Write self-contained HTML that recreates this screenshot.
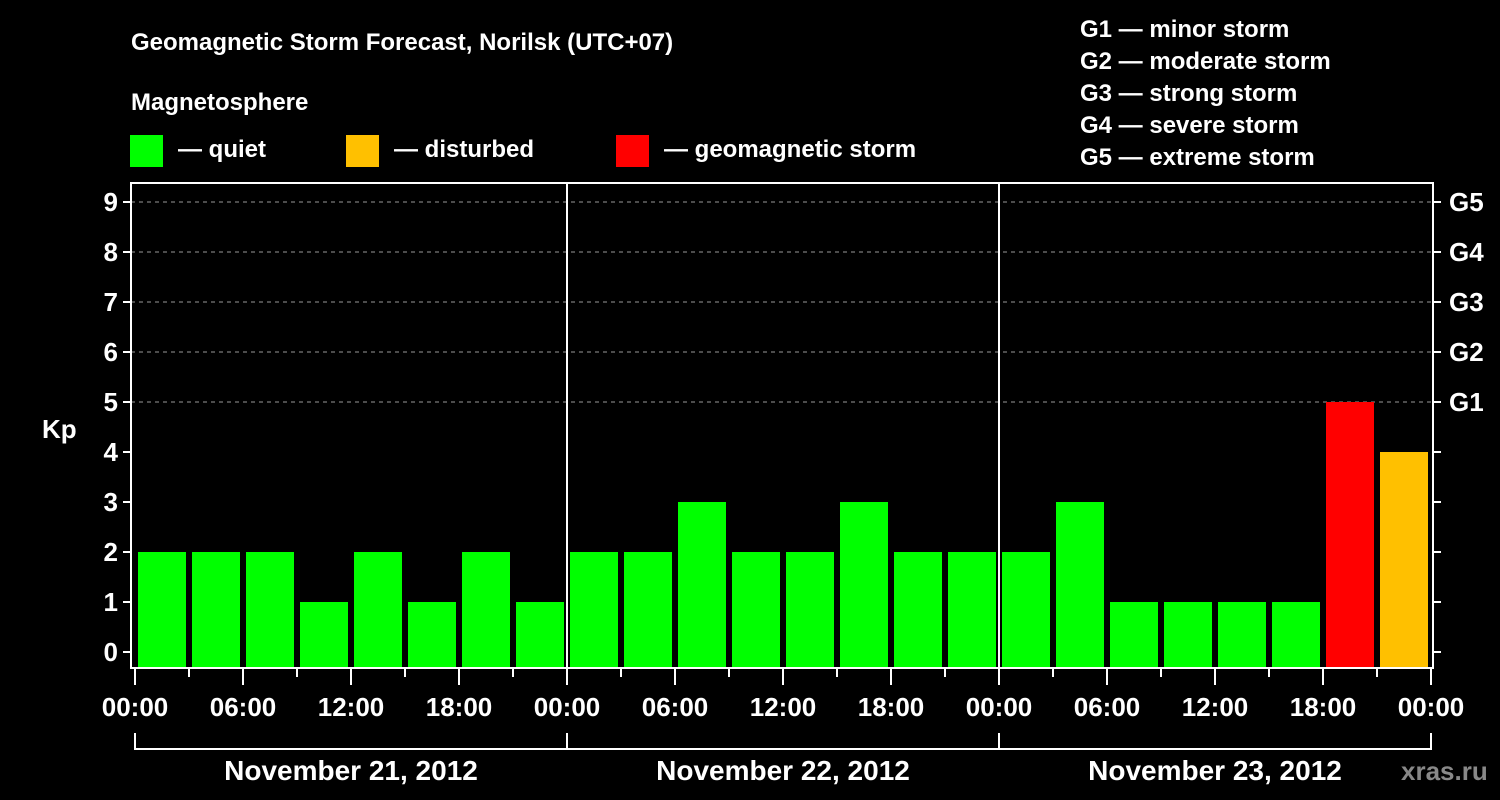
<!DOCTYPE html>
<html><head><meta charset="utf-8"><style>
html,body{margin:0;padding:0;background:#000;}
svg{display:block;font-family:"Liberation Sans",sans-serif;font-weight:bold;}
</style></head><body>
<svg id="chart" width="1500" height="800" viewBox="0 0 1500 800">
<rect width="1500" height="800" fill="#000"/>
<text x="131" y="50" font-size="24" fill="#fff">Geomagnetic Storm Forecast, Norilsk (UTC+07)</text>
<text x="131" y="110" font-size="24" fill="#fff">Magnetosphere</text>
<g><rect x="130" y="135" width="33" height="32" fill="#00ff00"/><text x="178" y="157" font-size="24" fill="#fff">— quiet</text></g>
<g><rect x="346" y="135" width="33" height="32" fill="#ffc000"/><text x="394" y="157" font-size="24" fill="#fff">— disturbed</text></g>
<g><rect x="616" y="135" width="33" height="32" fill="#ff0000"/><text x="664" y="157" font-size="24" fill="#fff">— geomagnetic storm</text></g>
<g font-size="24" fill="#fff">
<text x="1080" y="37">G1 — minor storm</text>
<text x="1080" y="69">G2 — moderate storm</text>
<text x="1080" y="101">G3 — strong storm</text>
<text x="1080" y="133">G4 — severe storm</text>
<text x="1080" y="165">G5 — extreme storm</text>
</g>
<text x="42" y="438" font-size="26" fill="#fff">Kp</text>
<text x="1401" y="780" font-size="26" fill="#888">xras.ru</text>
<g id="grid"></g>
<g id="bars"></g>
<g id="axes"></g>
</svg>
<script>
const kpValues = [1,2,2,2,1,2,1,2,1,2,2,3,2,2,3,2,2,2,3,1,1,1,1,5,4];
const yTicks = [0,1,2,3,4,5,6,7,8,9];
const gLabels = ["G1","G2","G3","G4","G5"];
const gLevels = [5,6,7,8,9];
const timeLabels = ["00:00","06:00","12:00","18:00","00:00","06:00","12:00","18:00","00:00","06:00","12:00","18:00","00:00"];
const dayLabels = ["November 21, 2012","November 22, 2012","November 23, 2012"];

const NS="http://www.w3.org/2000/svg";
const L=131,R=1433,T=183,B=668;
const X0=135,PXH=18;
const y=k=>652-50*k;
const x=h=>X0+h*PXH;
function mk(tag,attrs,parent){const e=document.createElementNS(NS,tag);for(const k in attrs)e.setAttribute(k,attrs[k]);parent.appendChild(e);return e;}
const grid=document.getElementById('grid'),bars=document.getElementById('bars'),axes=document.getElementById('axes');

gLevels.forEach((lv,i)=>{
  const ln=mk('line',{x1:L,x2:R,y1:y(lv),y2:y(lv),stroke:'#999','stroke-dasharray':'4 4','stroke-width':1},grid);
  
  
  const t=mk('text',{x:1449,y:y(lv)+9,'font-size':26,fill:'#fff'},axes);
  t.textContent=gLabels[i];
  
  
  mk('line',{x1:R,x2:R+8,y1:y(lv),y2:y(lv),stroke:'#fff','stroke-width':2},axes);
});
[1,2,3,4].forEach(lv=>mk('line',{x1:R,x2:R+8,y1:y(lv),y2:y(lv),stroke:'#fff','stroke-width':2},axes));
[0].forEach(lv=>mk('line',{x1:R,x2:R+8,y1:y(lv),y2:y(lv),stroke:'#fff','stroke-width':2},axes));

kpValues.forEach((v,i)=>{
  const c=x(-1.5+3*i);
  let x1=Math.max(c-24,136),x2=Math.min(c+24,1428);
  const col=v>=5?'#ff0000':(v>=4?'#ffc000':'#00ff00');
  const r=mk('rect',{x:x1,y:y(v),width:x2-x1,height:B-y(v),fill:col},bars);
  
  
});

[1,2].forEach(d=>{
  const ln=mk('line',{x1:x(24*d),x2:x(24*d),y1:T,y2:B,stroke:'#fff','stroke-width':2},grid);
  
  
});

const fr=mk('rect',{x:L,y:T,width:R-L,height:B-T,fill:'none',stroke:'#fff','stroke-width':2},axes);



yTicks.forEach(k=>{
  mk('line',{x1:L-8,x2:L,y1:y(k),y2:y(k),stroke:'#fff','stroke-width':2},axes);
  const t=mk('text',{x:L-13,y:y(k)+9,'font-size':26,fill:'#fff','text-anchor':'end'},axes);
  t.textContent=k;
  
  
});

for(let h=0;h<=72;h+=3){
  const major=h%6===0;
  mk('line',{x1:x(h),x2:x(h),y1:B,y2:major?685:677,stroke:'#fff','stroke-width':2},axes);
}
timeLabels.forEach((s,i)=>{
  const t=mk('text',{x:x(6*i),y:716,'font-size':26,fill:'#fff','text-anchor':'middle'},axes);
  t.textContent=s;
  
  
});
mk('line',{x1:x(0),x2:x(72),y1:749,y2:749,stroke:'#fff','stroke-width':2},axes);
for(let d=0;d<=3;d++) mk('line',{x1:x(24*d),x2:x(24*d),y1:733,y2:750,stroke:'#fff','stroke-width':2},axes);
dayLabels.forEach((s,i)=>{
  const t=mk('text',{x:x(24*i+12),y:780,'font-size':28,fill:'#fff','text-anchor':'middle'},axes);
  t.textContent=s;
  
  
});
</script>
</body></html>
